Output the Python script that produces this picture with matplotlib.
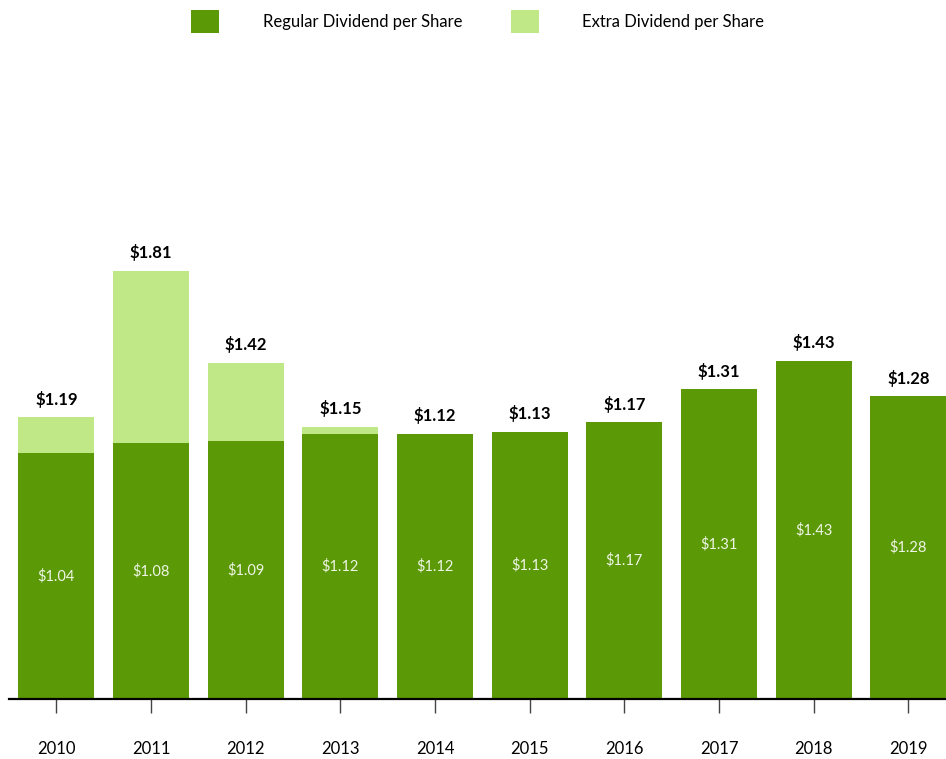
import matplotlib.pyplot as plt
import numpy as np

plt.rcParams['font.family'] = ['Lato', 'DejaVu Sans']

years = ['2010', '2011', '2012', '2013', '2014', '2015', '2016', '2017', '2018', '2019']
regular = [1.04, 1.08, 1.09, 1.12, 1.12, 1.13, 1.17, 1.31, 1.43, 1.28]
extra = [0.15, 0.73, 0.33, 0.03, 0.0, 0.0, 0.0, 0.0, 0.0, 0.0]

dark = '#5B9A06'
light = '#C0E887'

fig = plt.figure(figsize=(9.46, 7.59), dpi=100)
ax = fig.add_axes([9 / 946, 60 / 759, 1.0007, 639 / 759])

x = np.arange(len(years))
total = np.array(regular) + np.array(extra)
ax.bar(x, regular, width=0.8, color=dark, label='Regular Dividend per Share')
ax.bar(x, extra, width=0.8, bottom=regular, color=light, label='Extra Dividend per Share')

for i in range(len(years)):
    ax.text(x[i], regular[i] / 2, f'${regular[i]:.2f}', ha='center', va='center',
            color='white', alpha=0.9, fontsize=10.5)
    ax.text(x[i], total[i] + 0.04, f'${total[i]:.2f}', ha='center', va='bottom',
            color='black', fontsize=12, fontweight='bold')

ax.set_xlim(-0.5, 9.5)
ax.set_ylim(0, 2.7)
ax.set_xticks(x)
ax.set_xticklabels(years, fontsize=12)
ax.tick_params(axis='x', length=10, width=1, color='#444444', pad=20)
ax.set_yticks([])
for s in ['top', 'right', 'left']:
    ax.spines[s].set_visible(False)
ax.spines['bottom'].set_linewidth(1.6)

fig.legend(loc='upper center', bbox_to_anchor=(0.505, 1.006), ncol=2, frameon=False,
           fontsize=12, handlelength=1.7, handleheight=1.7, handletextpad=2.6,
           columnspacing=2.9)

fig.savefig('out.png', dpi=100)
